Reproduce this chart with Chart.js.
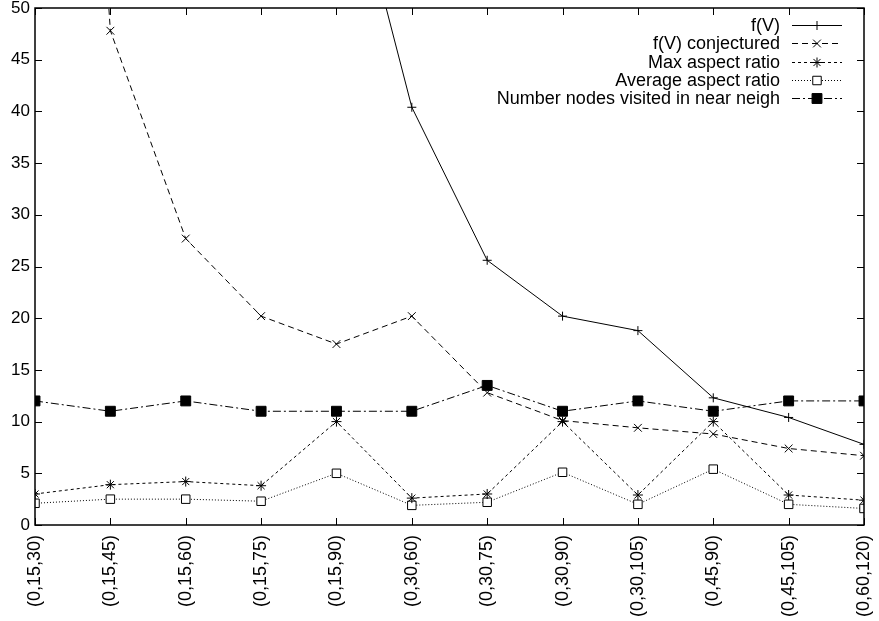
<!DOCTYPE html>
<html>
<head>
<meta charset="utf-8">
<script src="https://cdn.jsdelivr.net/npm/chart.js@4/dist/chart.umd.min.js"></script>
<style>
  html, body { margin: 0; padding: 0; background: #fff; }
  canvas { display: block; }
</style>
</head>
<body>
<canvas id="myChart" width="879" height="621"></canvas>
<script>
// data
const categories = ['(0,15,30)', '(0,15,45)', '(0,15,60)', '(0,15,75)', '(0,15,90)', '(0,30,60)',
                    '(0,30,75)', '(0,30,90)', '(0,30,105)', '(0,45,90)', '(0,45,105)', '(0,60,120)'];
const fV          = [520, 310, 180, 110, 68.6, 40.4, 25.6, 20.2, 18.8, 12.3, 10.4, 7.8];
const fVConj      = [158, 47.8, 27.7, 20.2, 17.5, 20.2, 12.8, 10.1, 9.4, 8.8, 7.4, 6.7];
const maxAspect   = [3.0, 3.9, 4.2, 3.8, 10.0, 2.6, 3.0, 10.0, 2.9, 10.0, 2.9, 2.4];
const avgAspect   = [2.1, 2.5, 2.5, 2.3, 5.0, 1.9, 2.2, 5.1, 2.0, 5.4, 2.0, 1.6];
const nodesVisited = [12, 11, 12, 11, 11, 11, 13.5, 11, 12, 11, 12, 12];
const yTicks = [0, 5, 10, 15, 20, 25, 30, 35, 40, 45, 50];

const FONT = "'Liberation Sans', Arial, Helvetica, sans-serif";

// gnuplot style frame with inward ticks on all four sides
const framePlugin = {
  id: 'frame',
  afterDraw(chart) {
    const ctx = chart.ctx;
    const a = chart.chartArea;
    const xs = chart.scales.x, ys = chart.scales.y;
    ctx.save();
    ctx.strokeStyle = '#000';
    ctx.lineWidth = 1.5;
    ctx.strokeRect(a.left, a.top, a.right - a.left, a.bottom - a.top);
    ctx.lineWidth = 1;
    ctx.beginPath();
    yTicks.forEach(v => {
      const y = Math.round(ys.getPixelForValue(v)) + 0.5;
      ctx.moveTo(a.left, y); ctx.lineTo(a.left + 7, y);
      ctx.moveTo(a.right, y); ctx.lineTo(a.right - 7, y);
    });
    categories.forEach((c, i) => {
      const x = Math.round(xs.getPixelForValue(i)) + 0.5;
      ctx.moveTo(x, a.bottom); ctx.lineTo(x, a.bottom - 7);
      ctx.moveTo(x, a.top); ctx.lineTo(x, a.top + 7);
    });
    ctx.stroke();
    ctx.restore();
  }
};

// legend: right aligned text followed by a line sample with its marker
const keyPlugin = {
  id: 'key',
  afterDraw(chart) {
    const ctx = chart.ctx;
    const textRight = 780, lineStart = 792, lineEnd = 842, top = 25, step = 18.3;
    ctx.save();
    ctx.font = '18px ' + FONT;
    ctx.textAlign = 'right';
    ctx.textBaseline = 'middle';
    chart.data.datasets.forEach((ds, i) => {
      const y = top + i * step;
      ctx.fillStyle = '#000';
      ctx.fillText(ds.label, textRight, y + 1);
      ctx.strokeStyle = ds.borderColor;
      ctx.lineWidth = ds.borderWidth;
      ctx.setLineDash(ds.borderDash || []);
      ctx.beginPath();
      ctx.moveTo(lineStart, Math.round(y) + 0.5);
      ctx.lineTo(lineEnd, Math.round(y) + 0.5);
      ctx.stroke();
      ctx.setLineDash([]);
      ctx.fillStyle = ds.pointBackgroundColor;
      ctx.strokeStyle = '#000';
      Chart.helpers.drawPoint(ctx, {
        pointStyle: ds.pointStyle,
        radius: ds.pointRadius,
        rotation: 0,
        borderWidth: 1
      }, (lineStart + lineEnd) / 2, Math.round(y) + 0.5);
    });
    ctx.restore();
  }
};

function series(label, data, dash, pointStyle, radius, fill) {
  return {
    label: label,
    data: data,
    borderColor: '#000',
    borderWidth: 1,
    borderDash: dash,
    pointStyle: pointStyle,
    pointRadius: radius,
    pointBorderColor: '#000',
    pointBorderWidth: 1,
    pointBackgroundColor: fill,
    tension: 0,
    clip: 0
  };
}

new Chart(document.getElementById('myChart').getContext('2d'), {
  type: 'line',
  data: {
    labels: categories,
    datasets: [
      series('f(V)', fV, [], 'cross', 4.5, 'transparent'),
      series('f(V) conjectured', fVConj, [6, 4], 'crossRot', 5.5, 'transparent'),
      series('Max aspect ratio', maxAspect, [3, 3], 'star', 5, 'transparent'),
      series('Average aspect ratio', avgAspect, [1, 2], 'rect', 6, '#fff'),
      series('Number nodes visited in near neigh', nodesVisited, [8, 3, 2, 3], 'rect', 7, '#000')
    ]
  },
  options: {
    responsive: false,
    devicePixelRatio: 1,
    animation: false,
    events: [],
    layout: { padding: { top: 6, right: 15, left: 0, bottom: 0 } },
    plugins: { legend: { display: false }, tooltip: { enabled: false } },
    scales: {
      x: {
        type: 'category',
        offset: false,
        grid: { display: false, drawTicks: false },
        border: { display: false },
        ticks: {
          color: '#000',
          font: { size: 18, family: FONT },
          minRotation: 90,
          maxRotation: 90,
          autoSkip: false,
          padding: 10
        },
        afterFit(scale) {
          scale.height = 96;
          scale.paddingLeft = 0;
          scale.paddingRight = 0;
        }
      },
      y: {
        min: 0,
        max: 50,
        grid: { display: false, drawTicks: false },
        border: { display: false },
        ticks: {
          color: '#000',
          font: { size: 17, family: FONT },
          stepSize: 5,
          padding: 5
        },
        afterFit(scale) {
          scale.width = 35;
          scale.paddingTop = 0;
          scale.paddingBottom = 0;
        }
      }
    }
  },
  plugins: [framePlugin, keyPlugin]
});
</script>
</body>
</html>
